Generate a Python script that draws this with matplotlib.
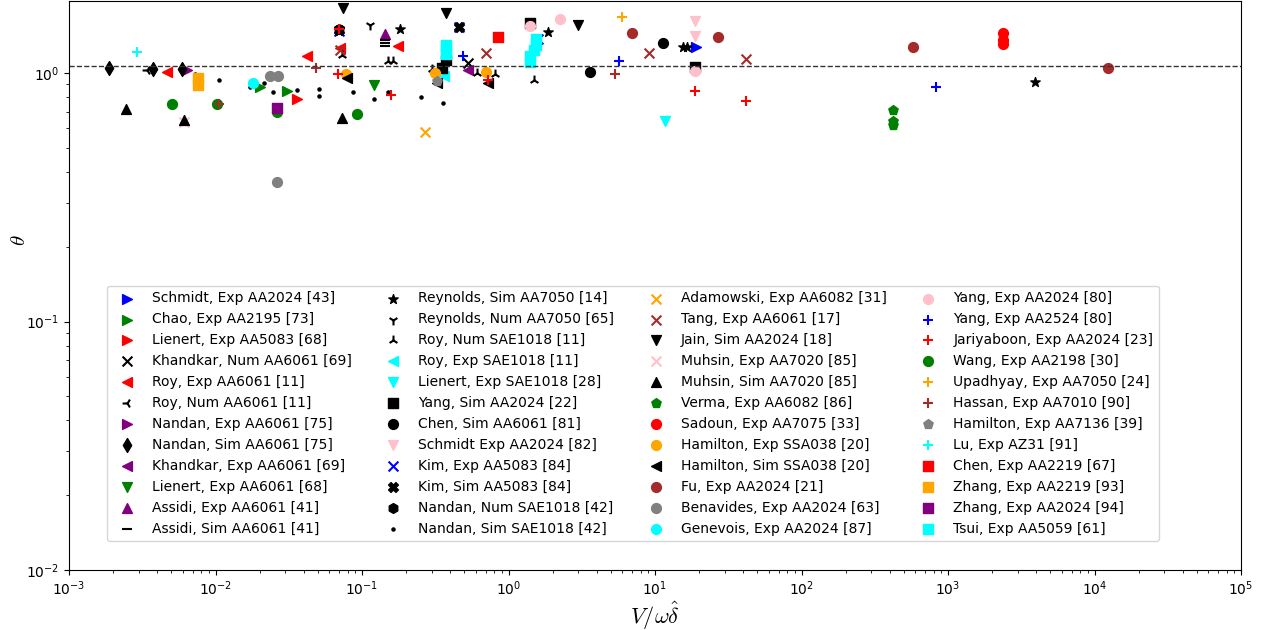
import numpy as np
import matplotlib
matplotlib.use("Agg")
import matplotlib.pyplot as plt

# ── Data (x = V/(omega*delta_hat), y = theta) ────────────────────────────────
labels = [
    "Schmidt, Exp AA2024 [43]", "Chao, Exp AA2195 [73]", "Lienert, Exp AA5083 [68]",
    "Khandkar, Num AA6061 [69]", "Roy, Exp AA6061 [11]", "Roy, Num AA6061 [11]",
    "Nandan, Exp AA6061 [75]", "Nandan, Sim AA6061 [75]", "Khandkar, Exp AA6061 [69]",
    "Lienert, Exp AA6061 [68]", "Assidi, Exp AA6061 [41]", "Assidi, Sim AA6061 [41]",
    "Reynolds, Sim AA7050 [14]", "Reynolds, Num AA7050 [65]", "Roy, Num SAE1018 [11]",
    "Roy, Exp SAE1018 [11]", "Lienert, Exp SAE1018 [28]", "Yang, Sim AA2024 [22]",
    "Chen, Sim AA6061 [81]", "Schmidt Exp AA2024 [82]", "Kim, Exp AA5083 [84]",
    "Kim, Sim AA5083 [84]", "Nandan, Num SAE1018 [42]", "Nandan, Sim SAE1018 [42]",
    "Adamowski, Exp AA6082 [31]", "Tang, Exp AA6061 [17]", "Jain, Sim AA2024 [18]",
    "Muhsin, Exp AA7020 [85]", "Muhsin, Sim AA7020 [85]", "Verma, Exp AA6082 [86]",
    "Sadoun, Exp AA7075 [33]", "Hamilton, Exp SSA038 [20]", "Hamilton, Sim SSA038 [20]",
    "Fu, Exp AA2024 [21]", "Benavides, Exp AA2024 [63]", "Genevois, Exp AA2024 [87]",
    "Yang, Exp AA2024 [80]", "Yang, Exp AA2524 [80]", "Jariyaboon, Exp AA2024 [23]",
    "Wang, Exp AA2198 [30]", "Upadhyay, Exp AA7050 [24]", "Hassan, Exp AA7010 [90]",
    "Hamilton, Exp AA7136 [39]", "Lu, Exp AZ31 [91]", "Chen, Exp AA2219 [67]",
    "Zhang, Exp AA2219 [93]", "Zhang, Exp AA2024 [94]", "Tsui, Exp AA5059 [61]",
]

x_vals = [
    [19.1],                                   # Schmidt [43]
    [0.0201, 0.0308],                         # Chao
    [0.036],                                  # Lienert AA5083
    [0.53],                                   # Khandkar Num
    [0.00467, 0.0422, 0.0708, 0.176],         # Roy Exp AA6061
    [0.0034],                                 # Roy Num AA6061
    [0.00638],                                # Nandan Exp
    [0.00187, 0.00374, 0.0059],               # Nandan Sim
    [0.53],                                   # Khandkar Exp
    [0.121],                                  # Lienert AA6061
    [0.1436],                                 # Assidi Exp
    [0.1436, 0.1436, 0.1436],                 # Assidi Sim
    [0.1815, 1.86, 15.5, 16.5, 3926],         # Reynolds Sim
    [0.1135],                                 # Reynolds Num
    [0.073, 0.150, 0.163, 0.301, 0.61, 0.809, 1.49],  # Roy Num SAE1018
    [0.363],                                  # Roy Exp SAE1018
    [11.7],                                   # Lienert SAE1018
    [0.374, 0.352, 1.40, 18.7],               # Yang Sim
    [3.6, 11.3],                              # Chen Sim
    [18.7, 18.7],                             # Schmidt [82]
    [0.0697, 0.459, 1.59],                    # Kim Exp
    [0.0697, 0.459],                          # Kim Sim
    [0.0697],                                 # Nandan Num SAE1018
    [0.00724, 0.0106, 0.0172, 0.0214, 0.0247, 0.036, 0.0508, 0.0508,
     0.087, 0.121, 0.150, 0.253, 0.357],      # Nandan Sim SAE1018
    [0.269],                                  # Adamowski
    [0.0708, 0.701, 9.1, 41.8],               # Tang
    [0.0741, 0.374, 2.98],                    # Jain
    [0.0061],                                 # Muhsin Exp
    [0.00245, 0.0061, 0.073],                 # Muhsin Sim
    [422, 422, 422],                          # Verma
    [2371, 2371, 2371],                       # Sadoun
    [0.0775, 0.315, 0.701],                   # Hamilton Exp SSA038
    [0.0791, 0.325, 0.724],                   # Hamilton Sim SSA038
    [6.97, 26.9, 577, 12360],                 # Fu
    [0.0236, 0.0267, 0.0263],                 # Benavides
    [0.018],                                  # Genevois
    [1.40, 2.25, 18.7],                       # Yang Exp AA2024
    [0.489, 5.68, 828],                       # Yang AA2524
    [0.0697, 0.0686, 0.158, 0.724, 18.7, 41.8],  # Jariyaboon
    [0.00505, 0.0102, 0.0263, 0.0925],        # Wang
    [5.96],                                   # Upadhyay
    [0.0106, 0.0485, 5.33],                   # Hassan
    [0.325],                                  # Hamilton AA7136
    [0.00291],                                # Lu
    [0.847],                                  # Chen AA2219
    [0.0076, 0.0076],                         # Zhang AA2219
    [0.0263],                                 # Zhang AA2024
    [0.374, 0.374, 0.374, 1.54, 1.54, 1.49, 1.40, 1.40],  # Tsui
]

y_vals = [
    [1.27],
    [0.875, 0.847],
    [0.787],
    [1.097],
    [1.009, 1.17, 1.26, 1.28],
    [1.03],
    [1.03],
    [1.047, 1.038, 1.038],
    [1.028],
    [0.895],
    [1.435],
    [1.36, 1.32, 1.28],
    [1.50, 1.46, 1.27, 1.27, 0.92],
    [1.56],
    [1.185, 1.117, 1.117, 1.038, 1.0, 0.991, 0.937],
    [0.973],
    [0.64],
    [1.13, 1.05, 1.59, 1.058],
    [1.009, 1.32],
    [1.62, 1.41],
    [1.47, 1.53, 1.37],
    [1.49, 1.53],
    [1.50],
    [0.991, 0.937, 0.875, 0.908, 0.836, 0.855, 0.863, 0.809,
     0.836, 0.787, 0.836, 0.801, 0.758],
    [0.58],
    [1.24, 1.20, 1.20, 1.14],
    [1.82, 1.74, 1.56],
    [0.635],
    [0.717, 0.65, 0.66],
    [0.71, 0.64, 0.618],
    [1.45, 1.36, 1.31],
    [0.99, 1.0, 1.009],
    [0.955, 0.908, 0.908],
    [1.45, 1.395, 1.27, 1.05],
    [0.977, 0.977, 0.365],
    [0.908],
    [1.545, 1.65, 1.019],
    [1.17, 1.117, 0.88],
    [1.50, 0.99, 0.816, 0.937, 0.847, 0.772],
    [0.748, 0.748, 0.70, 0.685],
    [1.68],
    [0.748, 1.05, 0.991],
    [0.929],
    [1.215],
    [1.395],
    [0.955, 0.895],
    [0.723],
    [1.30, 1.245, 1.19, 1.37, 1.30, 1.24, 1.17, 1.11],
]

theta_ref = 1.07

# ── Styles ───────────────────────────────────────────────────────────────────
markers = [
    ">", ">", ">", "x", "<", "3", ">", "d", "<", "v", "^", "_",
    "*", "1", "2", "<", "v", "s", "o", "v", "x", "X", "h", ".",
    "x", "x", "v", "x", "^", "p", "o", "o", "<", "o", "o", "o",
    "o", "+", "+", "o", "+", "+", "p", "+", "s", "s", "s", "s",
]
colors = [
    "blue", "green", "red", "black", "red", "black", "purple", "black", "purple", "green", "purple", "black",
    "black", "black", "black", "cyan", "cyan", "black", "black", "pink", "blue", "black", "black", "black",
    "orange", "brown", "black", "pink", "black", "green", "red", "orange", "black", "brown", "gray", "cyan",
    "pink", "blue", "red", "green", "orange", "brown", "gray", "cyan", "red", "orange", "purple", "cyan",
]

fig = plt.figure(figsize=(12.66, 6.3), dpi=100)
ax = fig.add_axes([69 / 1266, 60 / 630, 1172 / 1266, 569 / 630])

for lab, mk, col, xs, ys in zip(labels, markers, colors, x_vals, y_vals):
    size = 20 if mk == "." else 50
    ax.scatter(xs, ys, marker=mk, color=col, s=size, label=lab)

ax.axhline(theta_ref, color="#333333", linestyle="--", linewidth=1)

ax.set_xscale("log")
ax.set_yscale("log")
ax.set_xlim(1e-3, 1e5)
ax.set_ylim(1e-2, 1.95)

ax.set_xlabel(r"$V/\omega\hat{\delta}$", fontsize=16, math_fontfamily="cm")
ax.set_ylabel(r"$\theta$", fontsize=15, math_fontfamily="cm")
ax.xaxis.set_label_coords(0.5, -0.052)
ax.yaxis.set_label_coords(-0.034, 0.58)

fig.legend(loc="lower center", bbox_to_anchor=(0.5, 0.13), ncol=4, fontsize=10,
           columnspacing=2.0, handletextpad=0.8, framealpha=0.8)

fig.savefig("out.png", dpi=100)
